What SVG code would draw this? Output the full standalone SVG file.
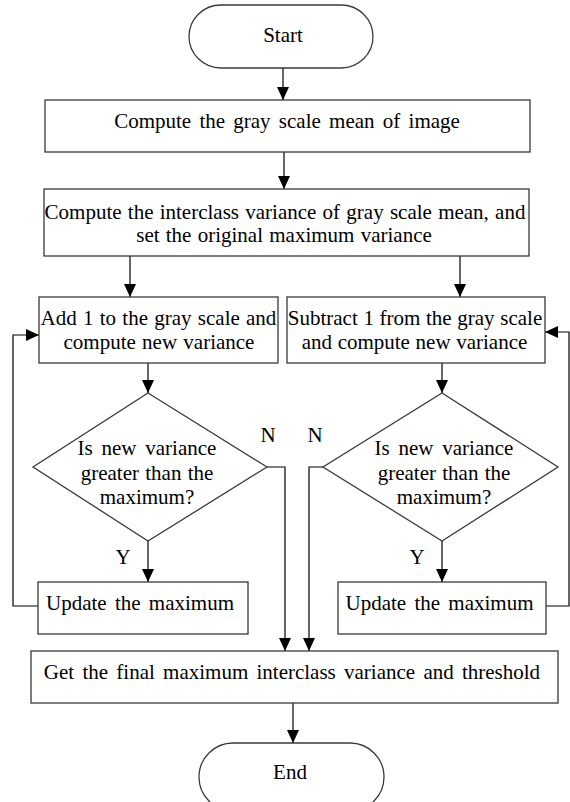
<svg xmlns="http://www.w3.org/2000/svg" width="570" height="802" viewBox="0 0 570 802">
<style>
.shape{fill:#fff;stroke:#3a3a3a;stroke-width:1.3}
.conn{fill:none;stroke:#000;stroke-width:1.2}
text{font-family:"Liberation Serif","Times New Roman",serif;font-size:21px;fill:#000;text-anchor:middle;word-spacing:1px}
.ws3{word-spacing:3px}
.ws4{word-spacing:3.5px}
.ws0{word-spacing:0.4px}
</style>
<defs>
<marker id="ah" markerUnits="userSpaceOnUse" markerWidth="14" markerHeight="12" refX="13" refY="6" orient="auto">
<path d="M0,0 L13,6 L0,12 Z" fill="#000"/>
</marker>
</defs>
<rect width="570" height="802" fill="#fff"/>
<g id="connectors">
<path class="conn" d="M283,68 V100" marker-end="url(#ah)"/>
<path class="conn" d="M284,152 V189" marker-end="url(#ah)"/>
<path class="conn" d="M130,256 V297" marker-end="url(#ah)"/>
<path class="conn" d="M460,256 V297" marker-end="url(#ah)"/>
<path class="conn" d="M148,363 V393" marker-end="url(#ah)"/>
<path class="conn" d="M442,363 V393" marker-end="url(#ah)"/>
<path class="conn" d="M148,541 V582" marker-end="url(#ah)"/>
<path class="conn" d="M442,541 V582" marker-end="url(#ah)"/>
<path class="conn" d="M38,606 H13 V335 H39" marker-end="url(#ah)"/>
<path class="conn" d="M546,606 H569 V332 H545" marker-end="url(#ah)"/>
<path class="conn" d="M267,467 H285 V651" marker-end="url(#ah)"/>
<path class="conn" d="M323,467 H309 V651" marker-end="url(#ah)"/>
<path class="conn" d="M293,703 V743" marker-end="url(#ah)"/>
<text x="268" y="442">N</text>
<text x="315" y="442">N</text>
<text x="123" y="564">Y</text>
<text x="417" y="564">Y</text>
</g>
<g id="start">
<rect class="shape" x="189" y="5" width="184" height="63" rx="32"/>
<text x="283" y="42">Start</text>
</g>
<g id="mean">
<rect class="shape" x="45" y="100" width="485" height="52"/>
<text class="ws3" x="287" y="128">Compute the gray scale mean of image</text>
</g>
<g id="interclass">
<rect class="shape" x="44" y="189" width="485" height="67"/>
<text x="285" y="219">Compute the interclass variance of gray scale mean, and</text>
<text x="284" y="242">set the original maximum variance</text>
</g>
<g id="add">
<rect class="shape" x="39" y="297" width="239" height="66"/>
<text x="158.5" y="325">Add 1 to the gray scale and</text>
<text x="159" y="349">compute new variance</text>
</g>
<g id="subtract">
<rect class="shape" x="287" y="297" width="258" height="66"/>
<text class="ws0" x="415" y="325">Subtract 1 from the gray scale</text>
<text class="ws0" x="414.5" y="349">and compute new variance</text>
</g>
<g id="decision-left">
<polygon class="shape" points="148,393 267,467 148,541 33,467"/>
<text class="ws4" x="147" y="455">Is new variance</text>
<text x="147" y="480">greater than the</text>
<text x="147" y="504">maximum?</text>
</g>
<g id="decision-right">
<polygon class="shape" points="442,393 558,467 442,541 323,467"/>
<text class="ws4" x="444" y="455">Is new variance</text>
<text x="444" y="480">greater than the</text>
<text x="444" y="504">maximum?</text>
</g>
<g id="update-left">
<rect class="shape" x="38" y="582" width="210" height="52"/>
<text class="ws3" x="140" y="610">Update the maximum</text>
</g>
<g id="update-right">
<rect class="shape" x="338" y="582" width="208" height="52"/>
<text class="ws3" x="439.5" y="610">Update the maximum</text>
</g>
<g id="final">
<rect class="shape" x="31" y="651" width="527" height="52"/>
<text class="ws3" x="292" y="679">Get the final maximum interclass variance and threshold</text>
</g>
<g id="end">
<rect class="shape" x="199" y="743" width="185" height="68" rx="34"/>
<text x="290" y="779">End</text>
</g>
</svg>
